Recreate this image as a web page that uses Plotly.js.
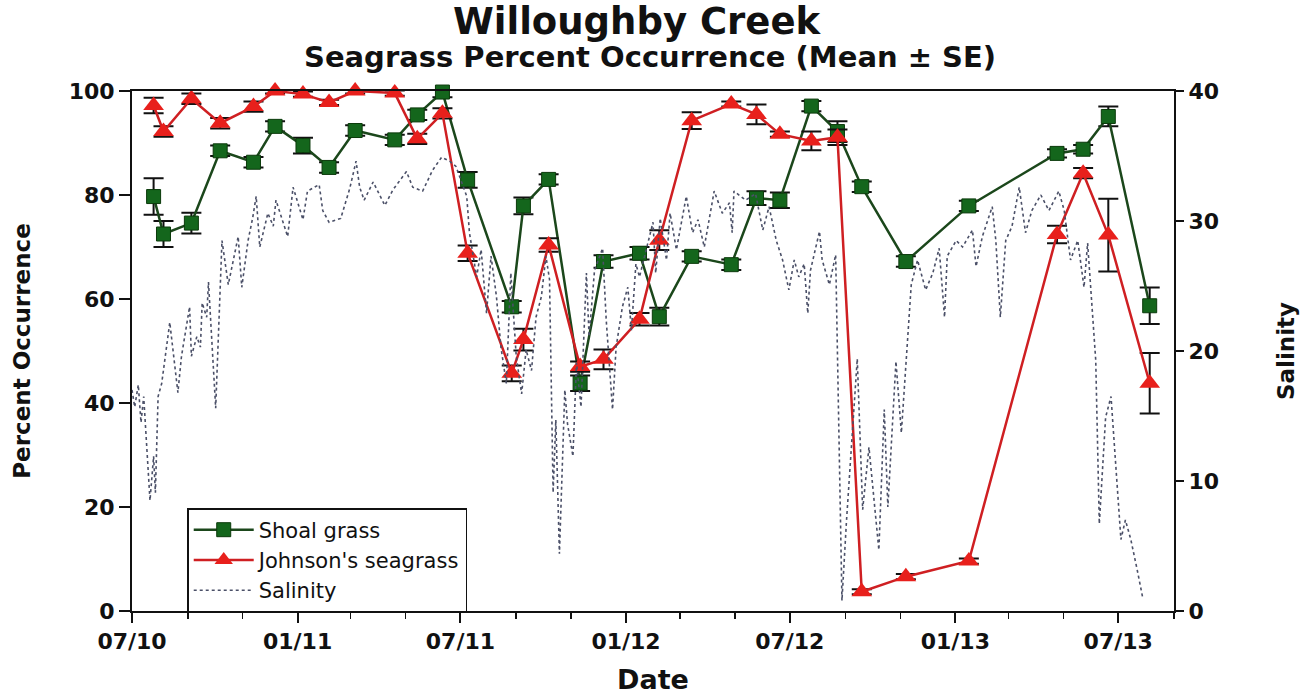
<!DOCTYPE html>
<html>
<head>
<meta charset="utf-8">
<script src="https://cdn.plot.ly/plotly-3.0.1.min.js"></script>
<style>html,body{margin:0;padding:0;background:#fff;}#chart{width:1305px;height:695px;}</style>
</head>
<body>
<div id="chart"></div>
<script>
// Sampling dates (shared by both seagrass series)
const sampleDates = ['2010-07-25','2010-08-05','2010-09-05','2010-10-07','2010-11-13','2010-12-07',
  '2011-01-07','2011-02-05','2011-03-06','2011-04-19','2011-05-14','2011-06-11','2011-07-09',
  '2011-08-27','2011-09-09','2011-10-07','2011-11-11','2011-12-07','2012-01-16','2012-02-07',
  '2012-03-14','2012-04-27','2012-05-25','2012-06-20','2012-07-25','2012-08-23','2012-09-19',
  '2012-11-07','2013-01-16','2013-04-24','2013-05-23','2013-06-20','2013-08-05'];

const shoalMean = [79.7,72.5,74.6,88.5,86.3,93.2,89.5,85.3,92.4,90.6,95.4,99.8,82.9,
  58.5,77.9,83.0,43.8,67.2,68.8,56.6,68.2,66.6,79.4,79.0,97.1,92.2,81.6,67.2,77.9,88.0,88.8,95.1,58.7];
const shoalSE = [3.5,2.5,2.0,1.0,1.0,1.0,1.5,1.0,1.0,1.0,1.0,1.0,1.5,
  1.1,1.6,1.0,1.5,1.2,1.2,1.7,1.0,1.0,1.3,1.5,1.0,2.0,1.0,1.0,1.0,0.8,0.8,1.9,3.5];

const johnsonMean = [97.2,92.2,98.5,93.8,97.0,100.0,99.4,97.8,100.0,99.6,90.8,95.7,68.8,
  45.7,52.2,70.4,47.0,48.4,56.1,71.3,94.3,97.5,95.5,91.7,90.4,91.1,3.7,6.6,9.6,72.4,84.2,72.3,43.8];
const johnsonSE = [1.5,1.0,1.0,1.0,1.0,0.5,0.5,0.5,0.5,0.5,1.0,1.0,1.5,
  1.5,2.1,1.3,1.0,1.9,1.2,1.9,1.6,0.5,1.9,0.5,1.8,1.5,0.5,0.5,0.5,1.7,1.0,7.0,5.8];

// Salinity record (right axis)
const salinityDates = ['2010-07-01','2010-07-04','2010-07-08','2010-07-11','2010-07-14','2010-07-21','2010-07-25','2010-07-27','2010-07-30',
  '2010-08-03','2010-08-12','2010-08-21','2010-08-25','2010-09-03','2010-09-05','2010-09-11','2010-09-15','2010-09-17','2010-09-22','2010-09-24',
  '2010-10-02','2010-10-09','2010-10-16','2010-10-27','2010-10-31','2010-11-07','2010-11-12','2010-11-16','2010-11-20','2010-11-29',
  '2010-12-05','2010-12-08','2010-12-21','2010-12-27','2011-01-07','2011-01-12','2011-01-25','2011-01-29','2011-02-05','2011-02-18',
  '2011-02-28','2011-03-07','2011-03-11','2011-03-16','2011-03-26','2011-04-08','2011-04-17','2011-05-02','2011-05-09','2011-05-20',
  '2011-05-31','2011-06-10','2011-06-19','2011-06-26','2011-07-08','2011-07-11','2011-07-19','2011-07-24','2011-07-30','2011-08-04',
  '2011-08-10','2011-08-15','2011-08-21','2011-08-26','2011-09-01','2011-09-07','2011-09-12','2011-09-18','2011-09-23','2011-09-29',
  '2011-10-04','2011-10-08','2011-10-12','2011-10-15','2011-10-19','2011-10-25','2011-10-28','2011-11-03','2011-11-07','2011-11-12',
  '2011-11-18','2011-11-21','2011-11-27','2011-12-06','2011-12-10','2011-12-17','2011-12-21','2011-12-28','2012-01-03','2012-01-07',
  '2012-01-12','2012-01-16','2012-01-31','2012-02-03','2012-02-08','2012-02-15','2012-02-19','2012-02-26','2012-03-08','2012-03-15',
  '2012-03-21','2012-03-28','2012-04-08','2012-04-17','2012-04-25','2012-04-28','2012-04-30','2012-05-13','2012-05-24','2012-06-01',
  '2012-06-08','2012-06-16','2012-06-23','2012-06-30','2012-07-06','2012-07-11','2012-07-17','2012-07-21','2012-07-24','2012-08-03',
  '2012-08-06','2012-08-14','2012-08-21','2012-08-28','2012-09-02','2012-09-14','2012-09-20','2012-09-27','2012-10-08','2012-10-14',
  '2012-10-18','2012-10-27','2012-11-02','2012-11-07','2012-11-13','2012-11-20','2012-11-29','2012-12-07','2012-12-14','2012-12-20',
  '2012-12-23','2013-01-02','2013-01-09','2013-01-20','2013-01-24','2013-01-31','2013-02-11','2013-02-15','2013-02-20','2013-02-26',
  '2013-03-05','2013-03-13','2013-03-20','2013-03-27','2013-04-06','2013-04-15','2013-04-26','2013-05-02','2013-05-09','2013-05-17',
  '2013-05-24','2013-05-28','2013-06-06','2013-06-10','2013-06-17','2013-06-23','2013-06-28','2013-07-04','2013-07-09','2013-07-15',
  '2013-07-22','2013-07-28'];
const salinityValues = [17.0,15.7,17.4,14.5,16.5,8.5,11.9,9.1,16.5,
  17.5,22.2,16.8,19.6,23.4,19.6,21.1,20.3,23.7,22.6,25.3,
  15.6,28.5,25.1,28.8,24.9,28.5,30.2,31.9,28.0,30.6,
  29.6,31.6,28.8,32.6,30.1,32.3,32.8,30.8,29.9,30.2,
  32.5,34.6,32.6,31.6,33.0,31.2,32.4,33.8,32.6,32.3,
  33.9,34.9,34.6,34.2,31.9,29.1,25.7,27.8,22.9,27.3,
  24.2,20.3,17.5,26.0,19.6,16.7,20.1,18.5,22.6,24.2,
  27.3,25.5,9.1,14.7,4.4,17.0,14.4,11.9,19.1,15.7,
  26.0,21.1,26.2,27.9,22.4,15.5,20.3,23.4,24.9,21.6,
  26.7,25.7,29.9,26.0,30.2,27.0,30.6,27.8,31.9,29.1,
  30.1,28.0,32.3,30.6,31.4,29.1,32.3,31.6,32.1,29.3,
  31.1,28.5,27.0,24.7,27.0,25.7,26.7,22.9,26.2,29.2,
  27.0,25.1,27.4,0.8,6.9,19.4,7.8,12.6,4.7,15.5,
  8.0,19.2,13.7,18.8,25.1,27.0,24.7,26.0,27.9,22.6,
  27.3,28.5,28.0,29.3,26.5,28.8,31.1,28.5,22.6,28.5,
  29.6,32.6,29.1,30.8,32.0,30.8,32.3,30.8,27.0,28.5,
  24.9,28.3,19.3,6.7,14.9,16.5,11.6,5.5,7.0,5.5,
  3.2,1.1];

const tickVals = ['2010-07-01','2011-01-01','2011-07-01','2012-01-01','2012-07-01','2013-01-01','2013-07-01'];
const tickText = ['07/10','01/11','07/11','01/12','07/12','01/13','07/13'];

const boldFont = {family: 'DejaVu Sans', weight: 'bold', color: '#111'};

const traces = [
  {
    x: salinityDates, y: salinityValues, yaxis: 'y2', name: 'Salinity', legendrank: 3,
    type: 'scatter', mode: 'lines',
    line: {color: '#4b5068', width: 1.6, dash: 'dot'}
  },
  {
    x: sampleDates, y: shoalMean, name: 'Shoal grass', legendrank: 1,
    type: 'scatter', mode: 'lines+markers', cliponaxis: false,
    line: {color: '#1b471b', width: 2.5},
    marker: {symbol: 'square', size: 14, color: '#14661c', line: {color: '#0b3a0b', width: 1}},
    error_y: {type: 'data', array: shoalSE, visible: true, color: '#111', thickness: 2, width: 10}
  },
  {
    x: sampleDates, y: johnsonMean, name: "Johnson's seagrass", legendrank: 2,
    type: 'scatter', mode: 'lines+markers', cliponaxis: false,
    line: {color: '#cf1f22', width: 2.5},
    marker: {symbol: 'triangle-up', size: 18, color: '#e8201c', line: {color: '#c01010', width: 0}},
    error_y: {type: 'data', array: johnsonSE, visible: true, color: '#111', thickness: 2, width: 10}
  }
];

const layout = {
  width: 1305, height: 695,
  margin: {l: 132, r: 131, t: 91, b: 84},
  paper_bgcolor: '#ffffff', plot_bgcolor: '#ffffff',
  font: {family: 'DejaVu Sans', color: '#111'},
  showlegend: true,
  legend: {
    x: 0.053, y: 0.198, xanchor: 'left', yanchor: 'top',
    bordercolor: '#111', borderwidth: 1.5, bgcolor: '#ffffff',
    font: {family: 'DejaVu Sans', size: 21, color: '#111'},
    traceorder: 'normal', itemwidth: 60, tracegroupgap: 0
  },
  xaxis: {
    type: 'date', range: ['2010-07-01', '2013-09-01'],
    tickmode: 'array', tickvals: tickVals, ticktext: tickText,
    ticks: 'outside', ticklen: 10, tickwidth: 2, tickcolor: '#111',
    minor: {dtick: 'M2', tick0: '2010-07-01', ticks: 'outside', ticklen: 6, tickwidth: 1.5, tickcolor: '#111', showgrid: false},
    showline: true, linecolor: '#111', linewidth: 2, mirror: true,
    showgrid: false, zeroline: false,
    tickfont: Object.assign({size: 22}, boldFont),
    title: {text: 'Date', font: Object.assign({size: 27}, boldFont), standoff: 18}
  },
  yaxis: {
    range: [0, 100], tickvals: [0, 20, 40, 60, 80, 100],
    ticks: 'outside', ticklen: 11, tickwidth: 2, tickcolor: '#111',
    showline: true, linecolor: '#111', linewidth: 2,
    showgrid: false, zeroline: false,
    tickfont: Object.assign({size: 22}, boldFont),
    title: {text: 'Percent Occurrence', font: Object.assign({size: 23}, boldFont), standoff: 32}
  },
  yaxis2: {
    overlaying: 'y', side: 'right', range: [0, 40], tickvals: [0, 10, 20, 30, 40],
    ticks: 'outside', ticklen: 8, tickwidth: 2, tickcolor: '#111',
    showline: true, linecolor: '#111', linewidth: 2,
    showgrid: false, zeroline: false,
    tickfont: Object.assign({size: 22}, boldFont),
    title: {text: 'Salinity', font: Object.assign({size: 23}, boldFont), standoff: 60}
  },
  annotations: [
    {text: 'Willoughby Creek', xref: 'paper', yref: 'paper', x: 0.485, y: 1 + (91 - 21) / 520,
     xanchor: 'center', yanchor: 'middle', showarrow: false, font: Object.assign({size: 37}, boldFont)},
    {text: 'Seagrass Percent Occurrence (Mean ± SE)', xref: 'paper', yref: 'paper', x: 0.497, y: 1 + (91 - 57) / 520,
     xanchor: 'center', yanchor: 'middle', showarrow: false, font: Object.assign({size: 29}, boldFont)}
  ]
};

Plotly.newPlot('chart', traces, layout, {displayModeBar: false, staticPlot: true});
</script>
</body>
</html>
